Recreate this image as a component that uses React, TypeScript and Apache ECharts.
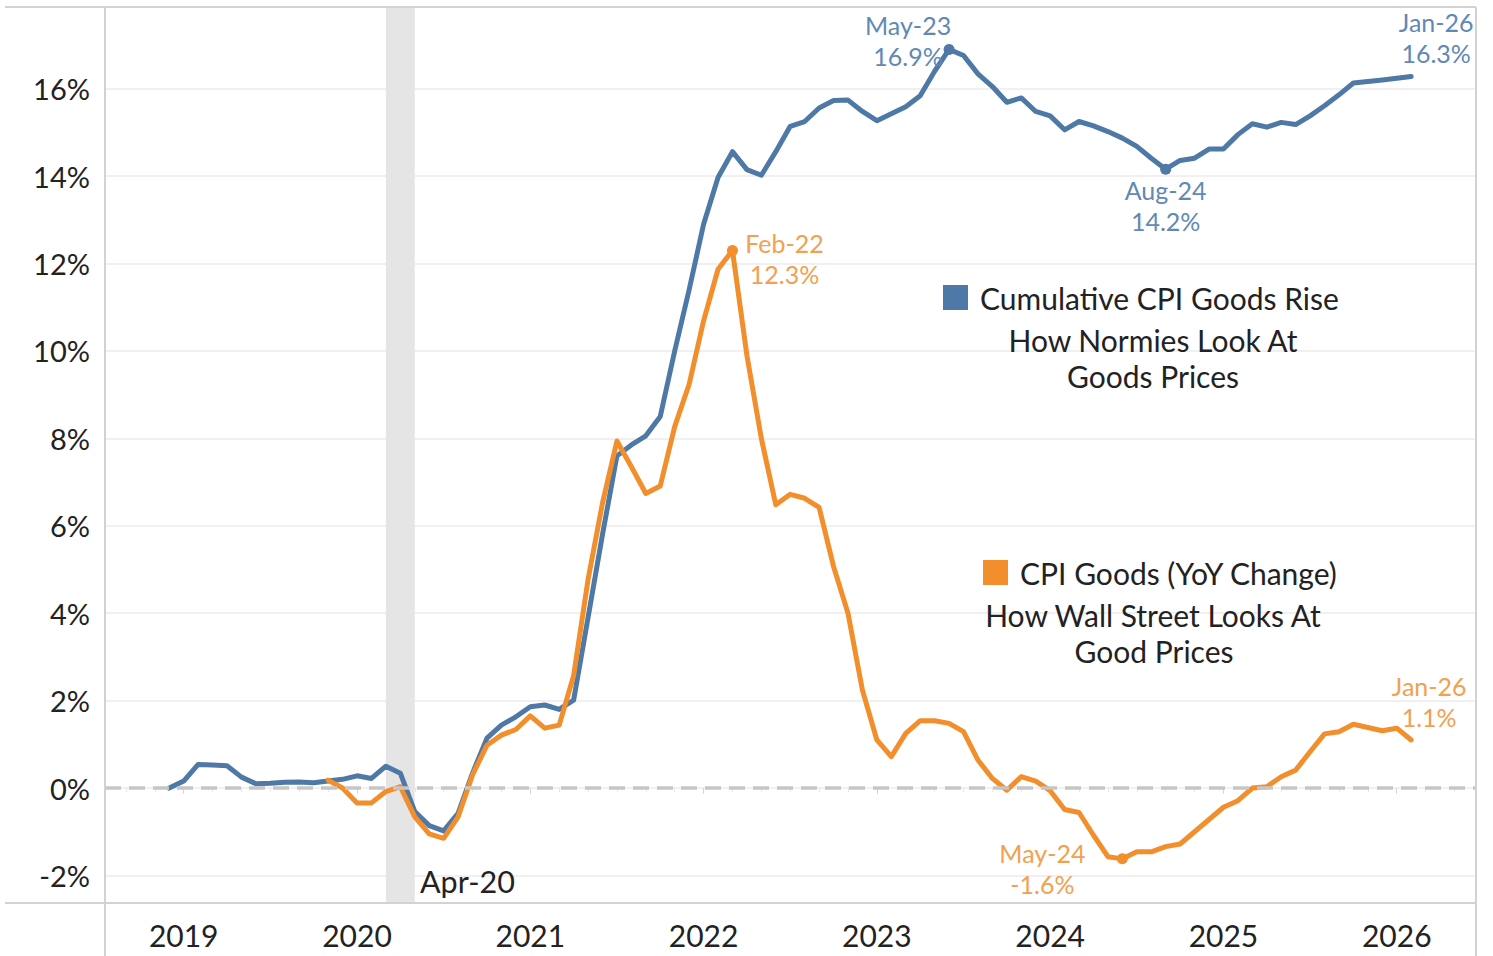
import React, { useEffect, useRef } from 'react';
import * as echarts from 'echarts';

// ---------- data ----------
const months = [
  '2018-11', '2018-12',
  '2019-01', '2019-02', '2019-03', '2019-04', '2019-05', '2019-06', '2019-07', '2019-08', '2019-09', '2019-10', '2019-11', '2019-12',
  '2020-01', '2020-02', '2020-03', '2020-04', '2020-05', '2020-06', '2020-07', '2020-08', '2020-09', '2020-10', '2020-11', '2020-12',
  '2021-01', '2021-02', '2021-03', '2021-04', '2021-05', '2021-06', '2021-07', '2021-08', '2021-09', '2021-10', '2021-11', '2021-12',
  '2022-01', '2022-02', '2022-03', '2022-04', '2022-05', '2022-06', '2022-07', '2022-08', '2022-09', '2022-10', '2022-11', '2022-12',
  '2023-01', '2023-02', '2023-03', '2023-04', '2023-05', '2023-06', '2023-07', '2023-08', '2023-09', '2023-10', '2023-11', '2023-12',
  '2024-01', '2024-02', '2024-03', '2024-04', '2024-05', '2024-06', '2024-07', '2024-08', '2024-09', '2024-10', '2024-11', '2024-12',
  '2025-01', '2025-02', '2025-03', '2025-04', '2025-05', '2025-06', '2025-07', '2025-08', '2025-09', '2025-10', '2025-11', '2025-12',
  '2026-01',
];

// Cumulative CPI goods rise (%)
const cumulativeGoods: (number | null)[] = [
  0.0, 0.16,
  0.54, 0.53, 0.51, 0.25, 0.10, 0.11, 0.13, 0.14, 0.12, 0.16, 0.20, 0.28,
  0.22, 0.50, 0.34, -0.54, -0.86, -0.98, -0.58, 0.34, 1.14, 1.44, 1.63, 1.86,
  1.90, 1.80, 2.01, 3.9, 5.8, 7.6, 7.85, 8.06, 8.5, 10.0, 11.4, 12.9,
  13.97, 14.56, 14.15, 14.02, 14.56, 15.14, 15.25, 15.56, 15.73, 15.74, 15.48, 15.27,
  15.43, 15.59, 15.84, 16.4, 16.9, 16.76, 16.34, 16.05, 15.69, 15.79, 15.48, 15.38,
  15.06, 15.25, 15.15, 15.02, 14.87, 14.68, 14.41, 14.16, 14.36, 14.41, 14.62, 14.62,
  14.95, 15.20, 15.12, 15.23, 15.18, 15.38, 15.61, 15.86, 16.13, null, 16.2, 16.24,
  16.28,
];

// CPI goods YoY change (%)
const yoyGoods: (number | null)[] = [
  null, null,
  null, null, null, null, null, null, null, null, null, 0.18, 0.0, -0.34,
  -0.34, -0.08, 0.03, -0.66, -1.05, -1.15, -0.66, 0.30, 0.98, 1.21, 1.34, 1.65,
  1.37, 1.44, 2.57, 4.77, 6.52, 7.94, 7.35, 6.74, 6.91, 8.27, 9.24, 10.69,
  11.87, 12.3, 9.9, 8.0, 6.48, 6.72, 6.63, 6.42, 5.07, 4.0, 2.24, 1.1,
  0.72, 1.25, 1.54, 1.54, 1.48, 1.29, 0.64, 0.22, -0.05, 0.26, 0.16, -0.06,
  -0.49, -0.56, -1.08, -1.57, -1.62, -1.46, -1.46, -1.34, -1.28, -1.0, -0.72, -0.44,
  -0.29, 0.0, 0.03, 0.26, 0.41, 0.83, 1.24, 1.29, 1.46, null, 1.31, 1.37,
  1.1,
];

const recession = ['2020-02', '2020-04'];
const recessionLabel = 'Apr-20';

const blueNoteMonths = ['2023-05', '2024-08', '2026-01'];
const orangeNoteMonths = ['2022-02', '2024-05', '2026-01'];

const legendBlue = ['Cumulative CPI Goods Rise', 'How Normies Look At', 'Goods Prices'];
const legendOrange = ['CPI Goods (YoY Change)', 'How Wall Street Looks At', 'Good Prices'];

// ---------- styling ----------
const BLUE = '#4e79a7';
const ORANGE = '#f28e2b';
const BLUE_TXT = '#6189b5';
const ORANGE_TXT = '#f3a04f';
const FONT = 'Lato';
const MON = ['Jan', 'Feb', 'Mar', 'Apr', 'May', 'Jun', 'Jul', 'Aug', 'Sep', 'Oct', 'Nov', 'Dec'];

function toX(m: string): number {
  const [y, mo] = m.split('-').map(Number);
  return y + mo / 12; // month-end position in decimal years
}
function monthLabel(m: string): string {
  const [y, mo] = m.split('-').map(Number);
  return `${MON[mo - 1]}-${String(y).slice(2)}`;
}

const noteLayout: Record<string, { offset: number[]; dot: boolean }> = {
  'b2023-05': { offset: [-41, -9], dot: true },
  'b2024-08': { offset: [0, 36], dot: true },
  'b2026-01': { offset: [25, -39], dot: false },
  'o2022-02': { offset: [52, 8], dot: true },
  'o2024-05': { offset: [-80, 10], dot: true },
  'o2026-01': { offset: [18, -38], dot: false },
};

function buildNotes(prefix: string, list: string[], values: (number | null)[], color: string, txt: string) {
  return list.map((m) => {
    const idx = months.indexOf(m);
    const v = values[idx] as number;
    const lay = noteLayout[prefix + m];
    return {
      coord: [toX(m), v],
      symbol: 'circle',
      symbolSize: lay.dot ? 11 : 1,
      itemStyle: { color: lay.dot ? color : 'rgba(0,0,0,0)' },
      label: {
        show: true,
        position: 'inside',
        offset: lay.offset,
        formatter: `${monthLabel(m)}\n${v.toFixed(1)}%`,
        color: txt,
        fontSize: 25,
        lineHeight: 31,
        fontFamily: FONT,
        align: 'center',
        verticalAlign: 'middle',
      },
    };
  });
}

export default function App() {
  const ref = useRef<HTMLDivElement>(null);

  useEffect(() => {
    if (!ref.current) return;
    const chart = echarts.init(ref.current, null, { renderer: 'svg' });

    const frameColor = '#d2d2d2';
    const textBase = { fontFamily: FONT, fontSize: 30, fill: '#222' };

    const option: any = {
      animation: false,
      backgroundColor: '#ffffff',
      textStyle: { fontFamily: FONT },
      grid: { left: 105, right: 17, top: 7, bottom: 53, containLabel: false },
      xAxis: {
        type: 'value',
        min: 2018.5458,
        max: 2026.4574,
        splitNumber: 8,
        minInterval: 1,
        maxInterval: 1,
        z: 1,
        axisLine: { show: false },
        axisTick: { show: true, length: 6, lineStyle: { color: '#d6d6d6', width: 1 } },
        minorTick: { show: true, splitNumber: 6, length: 4, lineStyle: { color: '#e6e6e6', width: 1 } },
        splitLine: { show: false },
        axisLabel: {
          showMinLabel: false,
          showMaxLabel: false,
          margin: 17,
          fontSize: 30,
          color: '#222',
          fontFamily: FONT,
          formatter: (v: number) => (Math.abs(v - Math.round(v)) < 1e-6 ? String(Math.round(v)) : ''),
        },
      },
      yAxis: {
        type: 'value',
        min: -2.63,
        max: 17.87,
        splitNumber: 10,
        minInterval: 2,
        maxInterval: 2,
        z: 1,
        axisLine: { show: false },
        axisTick: { show: false },
        splitLine: { show: true, lineStyle: { color: '#ebebeb', width: 1.5 } },
        axisLabel: {
          showMinLabel: false,
          showMaxLabel: false,
          margin: 15,
          fontSize: 29,
          color: '#222',
          fontFamily: FONT,
          formatter: (v: number) => (Math.abs(v / 2 - Math.round(v / 2)) < 1e-6 ? `${Math.round(v)}%` : ''),
        },
      },
      series: [
        {
          type: 'line',
          name: 'band',
          data: [],
          z: 0,
          silent: true,
          markArea: {
            silent: true,
            itemStyle: { color: '#e5e5e5' },
            data: [[{ xAxis: toX(recession[0]) }, { xAxis: toX(recession[1]) }]],
          },
        },
        {
          type: 'line',
          name: 'zero',
          data: [],
          z: 2,
          silent: true,
          markLine: {
            silent: true,
            symbol: ['none', 'none'],
            label: { show: false },
            lineStyle: { color: '#c6c6c6', type: [16, 8], width: 3.5 },
            data: [{ yAxis: 0 }],
          },
        },
        {
          type: 'line',
          name: 'Cumulative CPI Goods Rise',
          data: months.map((m, i) => [toX(m), cumulativeGoods[i]]),
          showSymbol: false,
          symbol: 'none',
          connectNulls: true,
          z: 3,
          lineStyle: { color: BLUE, width: 5, cap: 'round', join: 'round' },
          itemStyle: { color: BLUE },
          markPoint: { silent: true, data: buildNotes('b', blueNoteMonths, cumulativeGoods, BLUE, BLUE_TXT) },
        },
        {
          type: 'line',
          name: 'CPI Goods (YoY Change)',
          data: months.map((m, i) => [toX(m), yoyGoods[i]]),
          showSymbol: false,
          symbol: 'none',
          connectNulls: true,
          z: 4,
          lineStyle: { color: ORANGE, width: 5, cap: 'round', join: 'round' },
          itemStyle: { color: ORANGE },
          markPoint: { silent: true, data: buildNotes('o', orangeNoteMonths, yoyGoods, ORANGE, ORANGE_TXT) },
        },
      ],
      graphic: [
        { type: 'line', z: 50, shape: { x1: 5, y1: 7, x2: 1476, y2: 7 }, style: { stroke: frameColor, lineWidth: 2 } },
        { type: 'line', z: 50, shape: { x1: 5, y1: 903, x2: 1476, y2: 903 }, style: { stroke: frameColor, lineWidth: 2 } },
        { type: 'line', z: 50, shape: { x1: 105, y1: 7, x2: 105, y2: 956 }, style: { stroke: frameColor, lineWidth: 2 } },
        { type: 'line', z: 50, shape: { x1: 1476, y1: 7, x2: 1476, y2: 956 }, style: { stroke: frameColor, lineWidth: 2 } },
        { type: 'rect', z: 50, shape: { x: 943, y: 285, width: 25, height: 25 }, style: { fill: BLUE } },
        { type: 'text', z: 50, style: { ...textBase, text: legendBlue[0], x: 980, y: 298, align: 'left', verticalAlign: 'middle' } },
        { type: 'text', z: 50, style: { ...textBase, text: legendBlue[1], x: 1153, y: 340, align: 'center', verticalAlign: 'middle' } },
        { type: 'text', z: 50, style: { ...textBase, text: legendBlue[2], x: 1153, y: 376, align: 'center', verticalAlign: 'middle' } },
        { type: 'rect', z: 50, shape: { x: 983, y: 560, width: 25, height: 25 }, style: { fill: ORANGE } },
        { type: 'text', z: 50, style: { ...textBase, text: legendOrange[0], x: 1020, y: 573, align: 'left', verticalAlign: 'middle' } },
        { type: 'text', z: 50, style: { ...textBase, text: legendOrange[1], x: 1153, y: 615, align: 'center', verticalAlign: 'middle' } },
        { type: 'text', z: 50, style: { ...textBase, text: legendOrange[2], x: 1154, y: 651, align: 'center', verticalAlign: 'middle' } },
        { type: 'text', z: 50, style: { ...textBase, fontSize: 30.5, text: recessionLabel, x: 420, y: 881, align: 'left', verticalAlign: 'middle' } },
      ],
    };

    chart.setOption(option);
    return () => chart.dispose();
  }, []);

  return (
    <div
      ref={ref}
      style={{ position: 'fixed', left: 0, top: 0, width: 1493, height: 956, background: '#fff' }}
    />
  );
}
